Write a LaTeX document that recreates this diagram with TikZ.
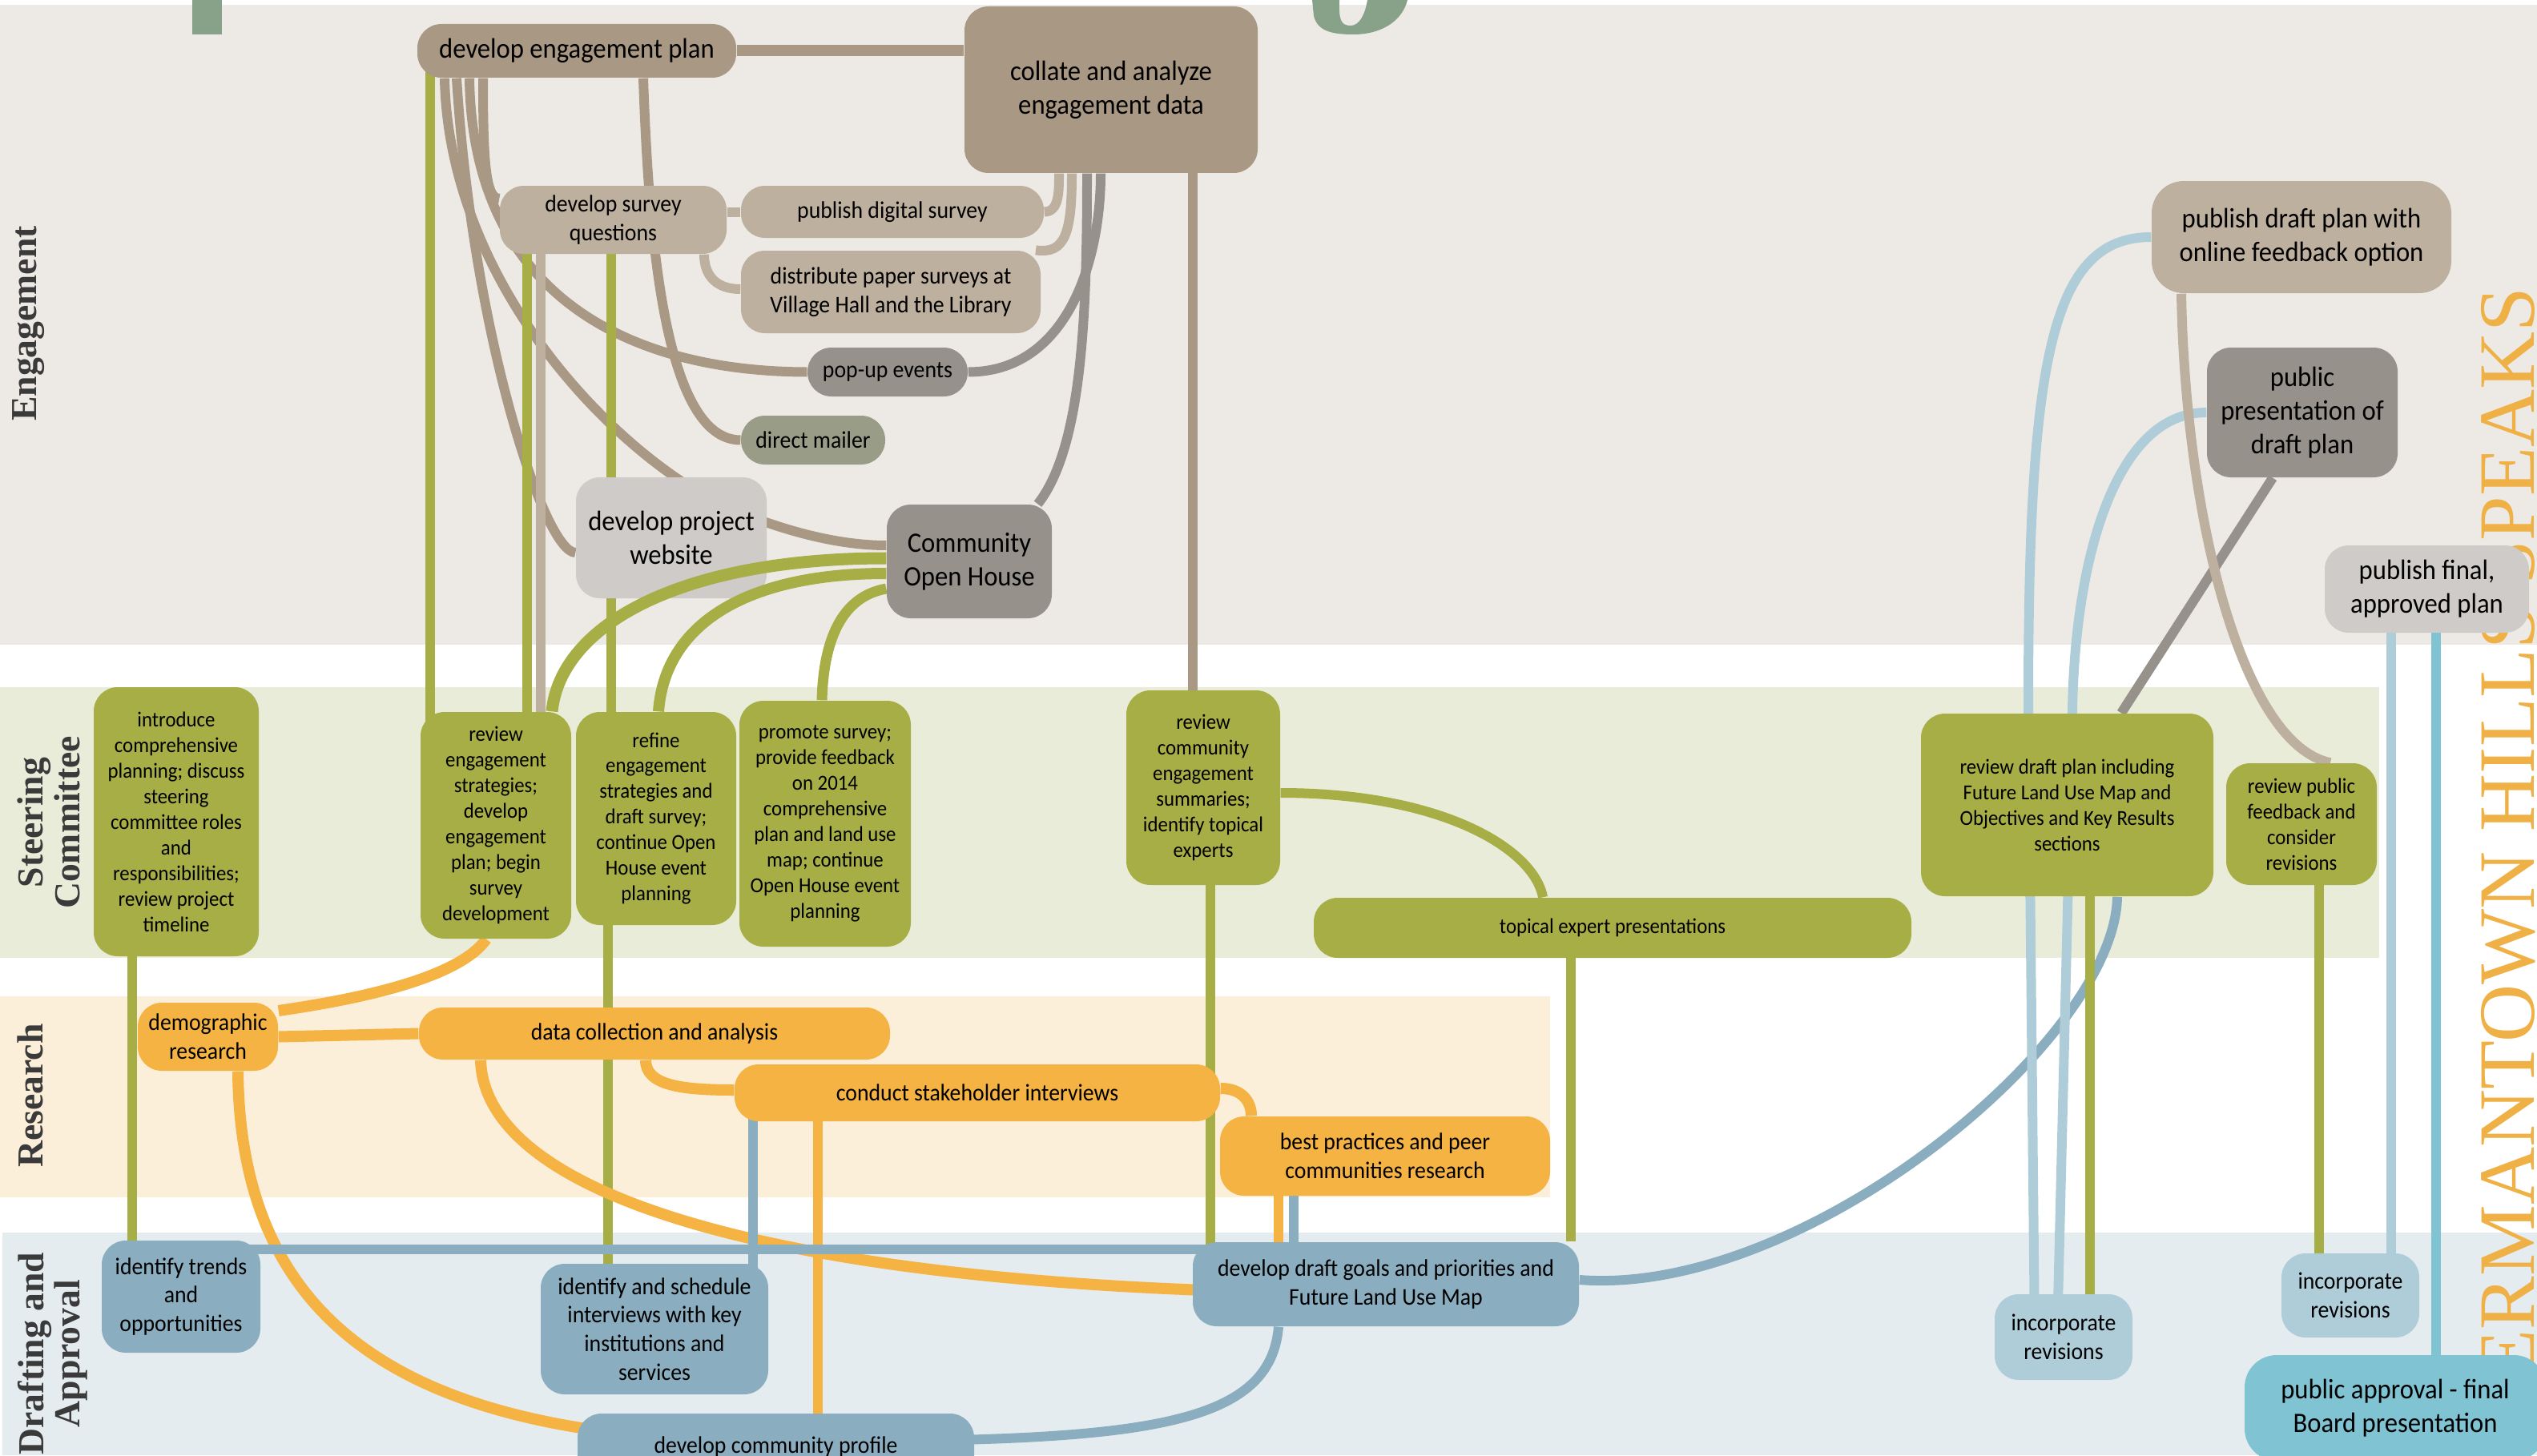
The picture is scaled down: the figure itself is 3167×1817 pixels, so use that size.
\documentclass[tikz,border=0pt]{standalone}
\usepackage{fontspec}
\setmainfont[FakeStretch=0.93]{Carlito}
\newfontfamily\rowfont{Liberation Serif}

\definecolor{cEngBand}{HTML}{EDEAE5}
\definecolor{cSteerBand}{HTML}{EAECDA}
\definecolor{cResBand}{HTML}{FBEFDA}
\definecolor{cDraftBand}{HTML}{E5ECEF}
\definecolor{cTaupe}{HTML}{A99883}
\definecolor{cLtaupe}{HTML}{BDB09E}
\definecolor{cStone}{HTML}{96918A}
\definecolor{cSage}{HTML}{999C87}
\definecolor{cPale}{HTML}{CECBC8}
\definecolor{cOlive}{HTML}{A6AE45}
\definecolor{cOrange}{HTML}{F4B342}
\definecolor{cBlue}{HTML}{8AAEBF}
\definecolor{cLtblue}{HTML}{AFCDD8}
\definecolor{cTeal}{HTML}{80C3D3}
\definecolor{cTitle}{HTML}{EFB145}
\definecolor{cHead}{HTML}{88A28A}
\definecolor{cLabel}{HTML}{3A3A3A}

\newcommand{\boxsmall}{\fontsize{7.6}{9.1}\selectfont}
\newcommand{\boxmid}{\fontsize{8.5}{10.2}\selectfont}
\newcommand{\boxlarge}{\fontsize{10}{12}\selectfont}

\pgfdeclarelayer{bands}
\pgfdeclarelayer{edges}
\pgfsetlayers{bands,edges,main}

\begin{document}
\begin{tikzpicture}[x=0.1mm, y=-0.1mm,
    box/.style={rounded corners=3mm, inner sep=0pt, align=center, text=black},
    conn/.style={line width=1.2mm},
    rowlabel/.style={rotate=90, align=center, inner sep=0pt, text=cLabel,
      font=\rowfont\bfseries\fontsize{13}{11.5}\selectfont}]
\useasboundingbox (0,0) rectangle (3167,1817);

% bands
\begin{pgfonlayer}{bands}
\fill[white] (0,0) rectangle (3167,1817);
\fill[cEngBand] (0,6) rectangle (3167,805);
\fill[cSteerBand] (0,858) rectangle (2970,1196);
\fill[cResBand] (0,1244) rectangle (1935,1495);
\fill[cDraftBand] (3,1539) rectangle (3167,1817);
% cut-off heading at the top
\fill[cHead] (240,0) rectangle (277,43);
\fill[cHead] (1638,0) -- (1640,20) .. controls (1645,40) and (1665,43) .. (1690,43)
  .. controls (1722,43) and (1750,28) .. (1757,0) -- (1707,0)
  .. controls (1704,18) and (1697,32) .. (1686,32) .. controls (1674,32) and (1671,25) .. (1672,0) -- cycle;
\end{pgfonlayer}

\node[rowlabel] (lblEng) at (36,404) {Engagement};
\node[rowlabel] (lblSteer) at (61,1027) {Steering\\Committee};
\node[rowlabel] (lblRes) at (38,1368) {Research};
\node[rowlabel] (lblDraft) at (66,1690) {Drafting and\\Approval};

% engagement
\node[box, fill=cTaupe, minimum width=39.8mm, minimum height=6.7mm, font=\boxlarge] (devplan) at (720,63.5) {develop engagement plan};
\node[box, fill=cTaupe, minimum width=36.6mm, minimum height=20.8mm, font=\boxlarge] (collate) at (1387,112) {collate and analyze\\engagement data};
\node[box, fill=cLtaupe, minimum width=28.3mm, minimum height=8.5mm, font=\boxmid] (survq) at (765.5,274.5) {develop survey\\questions};
\node[box, fill=cLtaupe, minimum width=37.8mm, minimum height=6.5mm, font=\boxmid] (digital) at (1114,264.5) {publish digital survey};
\node[box, fill=cLtaupe, minimum width=37.4mm, minimum height=10.3mm, font=\boxmid] (paper) at (1112,364.5) {distribute paper surveys at\\Village Hall and the Library};
\node[box, fill=cStone, minimum width=20mm, minimum height=6.1mm, font=\boxmid] (popup) at (1108,464.5) {pop-up events};
\node[box, fill=cSage, minimum width=18mm, minimum height=6.1mm, font=\boxmid] (mailer) at (1015,549.5) {direct mailer};
\node[box, fill=cPale, minimum width=23.8mm, minimum height=15.1mm, font=\boxlarge] (website) at (838,671.5) {develop project\\website};
\node[box, fill=cStone, minimum width=20.6mm, minimum height=14.2mm, font=\boxlarge] (openhouse) at (1210,701) {Community\\Open House};
\node[box, fill=cLtaupe, minimum width=37.4mm, minimum height=14mm, rounded corners=4mm, font=\boxlarge] (pubdraft) at (2873,296) {publish draft plan with\\online feedback option};
\node[box, fill=cStone, minimum width=23.8mm, minimum height=16.2mm, font=\boxlarge] (pubpres) at (2874,515) {public\\presentation of\\draft plan};
\node[box, fill=cPale, minimum width=25.5mm, minimum height=10.9mm, font=\boxlarge] (pubfinal) at (3029.5,735.5) {publish final,\\approved plan};

% steering committee
\node[box, fill=cOlive, minimum width=20.6mm, minimum height=33.6mm, font=\boxsmall] (intro) at (220,1026) {introduce\\comprehensive\\planning; discuss\\steering\\committee roles\\and\\responsibilities;\\review project\\timeline};
\node[box, fill=cOlive, minimum width=18.8mm, minimum height=28.3mm, font=\boxsmall] (review1) at (619,1030.5) {review\\engagement\\strategies;\\develop\\engagement\\plan; begin\\survey\\development};
\node[box, fill=cOlive, minimum width=20mm, minimum height=26.6mm, font=\boxsmall] (refine) at (819,1022) {refine\\engagement\\strategies and\\draft survey;\\continue Open\\House event\\planning};
\node[box, fill=cOlive, minimum width=21.4mm, minimum height=30.7mm, font=\boxsmall] (promote) at (1030,1028.5) {promote survey;\\provide feedback\\on 2014\\comprehensive\\plan and land use\\map; continue\\Open House event\\planning};
\node[box, fill=cOlive, minimum width=19.2mm, minimum height=24.3mm, font=\boxsmall] (reviewcomm) at (1502,983.5) {review\\community\\engagement\\summaries;\\identify topical\\experts};
\node[box, fill=cOlive, minimum width=74.6mm, minimum height=7.5mm, font=\boxsmall] (topical) at (2013,1158.5) {topical expert presentations};
\node[box, fill=cOlive, minimum width=36.5mm, minimum height=22.8mm, font=\boxsmall] (reviewdraft) at (2580.5,1005) {review draft plan including\\Future Land Use Map and\\Objectives and Key Results\\sections};
\node[box, fill=cOlive, minimum width=18.8mm, minimum height=15.2mm, font=\boxsmall] (reviewpub) at (2873,1029) {review public\\feedback and\\consider\\revisions};

% research
\node[box, fill=cOrange, minimum width=17.5mm, minimum height=8.5mm, font=\boxmid] (demog) at (259.5,1294.5) {demographic\\research};
\node[box, fill=cOrange, minimum width=58.8mm, minimum height=6.5mm, font=\boxmid] (datacoll) at (817,1290.5) {data collection and analysis};
\node[box, fill=cOrange, minimum width=60.6mm, minimum height=7.1mm, font=\boxmid] (stake) at (1220,1364.5) {conduct stakeholder interviews};
\node[box, fill=cOrange, minimum width=41.2mm, minimum height=9.9mm, font=\boxmid] (best) at (1729,1443.5) {best practices and peer\\communities research};

% drafting and approval
\node[box, fill=cBlue, minimum width=19.8mm, minimum height=14mm, font=\boxmid] (trends) at (226,1619) {identify trends\\and\\opportunities};
\node[box, fill=cBlue, minimum width=28.4mm, minimum height=16.3mm, font=\boxmid] (identify) at (817,1659.5) {identify and schedule\\interviews with key\\institutions and\\services};
\node[box, fill=cBlue, minimum width=48.2mm, minimum height=10.5mm, font=\boxmid] (draftgoals) at (1730,1603.5) {develop draft goals and priorities and\\Future Land Use Map};
\node[box, fill=cBlue, minimum width=49.5mm, minimum height=8.4mm, font=\boxmid] (profile) at (968.5,1807) {develop community profile};
\node[box, fill=cLtblue, minimum width=17.2mm, minimum height=10.7mm, font=\boxmid] (incorpA) at (2576,1669.5) {incorporate\\revisions};
\node[box, fill=cLtblue, minimum width=17.2mm, minimum height=10.5mm, font=\boxmid] (incorpB) at (2934,1617.5) {incorporate\\revisions};
\node[box, fill=cTeal, minimum width=37.6mm, minimum height=13.2mm, rounded corners=4mm, font=\boxlarge] (approval) at (2990,1758) {public approval - final\\Board presentation};

\begin{pgfonlayer}{edges}
\node[rotate=90, anchor=base east, inner sep=0pt, text=cTitle,
  font=\rowfont\fontsize{28.4}{30}\selectfont] (speaks) at (3163,358) {GERMANTOWN HILLS SPEAKS};
% engagement links
\draw[conn, cTaupe, line width=1.4mm] (devplan.east) -- (devplan.east -| collate.west);
\draw[conn, cTaupe] (603,0 |- devplan.south) .. controls (603,200) and (606,248) .. (survq.west |- 0,248);
\draw[conn, cTaupe] (586,0 |- devplan.south) .. controls (590,380) and (800,464) .. (popup.west);
\draw[conn, cTaupe] (570,0 |- devplan.south) .. controls (590,420) and (680,690) .. (website.west |- 0,690);
\draw[conn, cTaupe] (555,0 |- devplan.south) .. controls (560,350) and (760,560) .. (900,630)
  .. controls (980,665) and (1050,681) .. (openhouse.west |- 0,681);
\draw[conn, cTaupe] (803,0 |- devplan.south) .. controls (810,300) and (830,549) .. (mailer.west);
\draw[conn, cLtaupe] (survq.east |- digital.west) -- (digital.west);
\draw[conn, cLtaupe] (879,0 |- survq.south) .. controls (879,345) and (895,361) .. (paper.west |- 0,361);
\draw[conn, cLtaupe] (digital.east) .. controls (1322,264.5) and (1322,240) .. (1322,0 |- collate.south);
\draw[conn, cLtaupe] (1293,0 |- paper.north) .. controls (1330,318) and (1338,290) .. (1338,0 |- collate.south);
\draw[conn, cStone] (popup.east) .. controls (1330,464.5) and (1374,330) .. (1374,0 |- collate.south);
\draw[conn, cStone] (openhouse.40) .. controls (1350,560) and (1357,400) .. (1357,0 |- collate.south);
\draw[conn, cTaupe] (1489,0 |- collate.center) -- (1489,0 |- reviewcomm.center);
\draw[conn, cOlive] (537,0 |- devplan.center) -- (537,0 |- review1.center);
\draw[conn, cOlive] (658,0 |- survq.center) -- (658,0 |- review1.center);
\draw[conn, cLtaupe] (675,0 |- survq.center) -- (675,0 |- review1.center);
\draw[conn, cOlive] (763,0 |- survq.center) -- (763,0 |- refine.center);
% steering and research links
\draw[conn, cOlive] (165,0 |- intro.center) -- (165,0 |- trends.center);
\draw[conn, cOlive] (759,0 |- refine.center) -- (759,0 |- identify.center);
\draw[conn, cOlive] (1511,0 |- reviewcomm.center) -- (1511,0 |- draftgoals.center);
\draw[conn, cOlive] (reviewcomm.east |- 0,990) .. controls (1800,990) and (1915,1060) .. (1926,0 |- topical.north);
\draw[conn, cOlive] (1961,0 |- topical.center) -- (1961,0 |- draftgoals.north);
\draw[conn, cOrange, line width=1.4mm] (607,0 |- review1.south) .. controls (570,1225) and (430,1250) .. (demog.east |- 0,1262);
\draw[conn, cOrange, line width=1.4mm] (demog.east) -- (datacoll.west);
\draw[conn, cOrange, line width=1.4mm] (297,0 |- demog.south) .. controls (300,1650) and (500,1800) .. (profile.center |- 0,1800);
\draw[conn, cOrange, line width=1.4mm] (600,0 |- datacoll.south) .. controls (605,1500) and (1000,1615) .. (draftgoals.center |- 0,1615);
\draw[conn, cOrange, line width=1.4mm] (806,0 |- datacoll.south) .. controls (806,1355) and (850,1361) .. (stake.west |- 0,1361);
\draw[conn, cOrange, line width=1.4mm] (stake.east |- 0,1359) .. controls (1550,1359) and (1562,1375) .. (1562,0 |- best.north);
\draw[conn, cBlue] (940,0 |- stake.center) -- (940,0 |- identify.center);
\draw[conn, cOrange] (1021,0 |- stake.center) -- (1021,0 |- profile.center);
\draw[conn, cOrange] (1596,0 |- best.center) -- (1596,0 |- draftgoals.center);
\draw[conn, cBlue] (1615,0 |- best.center) -- (1615,0 |- draftgoals.center);
\draw[conn, cBlue] (trends.center |- 0,1560) -- (draftgoals.center |- 0,1560);
\draw[conn, cBlue] (1596,0 |- draftgoals.south) .. controls (1585,1790) and (1400,1800) .. (profile.center |- 0,1800);
\draw[conn, cBlue] (draftgoals.east |- 0,1598) .. controls (2250,1620) and (2640,1300) .. (2643,0 |- reviewdraft.south);
% right side links
\draw[conn, cOlive] (2609,0 |- reviewdraft.center) -- (2609,0 |- incorpA.center);
\draw[conn, cLtblue] (pubdraft.west) .. controls (2560,296) and (2532,450) .. (2532,880) -- (2540,0 |- incorpA.center);
\draw[conn, cLtblue] (pubpres.west) .. controls (2640,515) and (2590,700) .. (2587,887) -- (2568,0 |- incorpA.center);
\draw[conn, cStone] (2837,0 |- pubpres.south) -- (2648,0 |- reviewdraft.north);
\draw[conn, cLtaupe] (2723,0 |- pubdraft.south) .. controls (2728,650) and (2800,930) .. (2909,0 |- reviewpub.north);
\draw[conn, cOlive] (2895,0 |- reviewpub.center) -- (2895,0 |- incorpB.center);
\draw[conn, cLtblue] (2985,0 |- pubfinal.center) -- (2985,0 |- incorpB.center);
\draw[conn, cTeal] (3041,0 |- pubfinal.center) -- (3041,0 |- approval.center);
\end{pgfonlayer}

% open house links over the website box
\draw[conn, cOlive, line width=1.5mm] (openhouse.west |- 0,697) .. controls (850,697) and (700,780) .. (689,0 |- review1.north);
\draw[conn, cOlive, line width=1.4mm] (openhouse.west |- 0,716) .. controls (930,716) and (830,780) .. (822,0 |- refine.north);
\draw[conn, cOlive, line width=1.3mm] (openhouse.west |- 0,735) .. controls (1050,745) and (1028,800) .. (1026,0 |- promote.north);
\end{tikzpicture}
\end{document}
